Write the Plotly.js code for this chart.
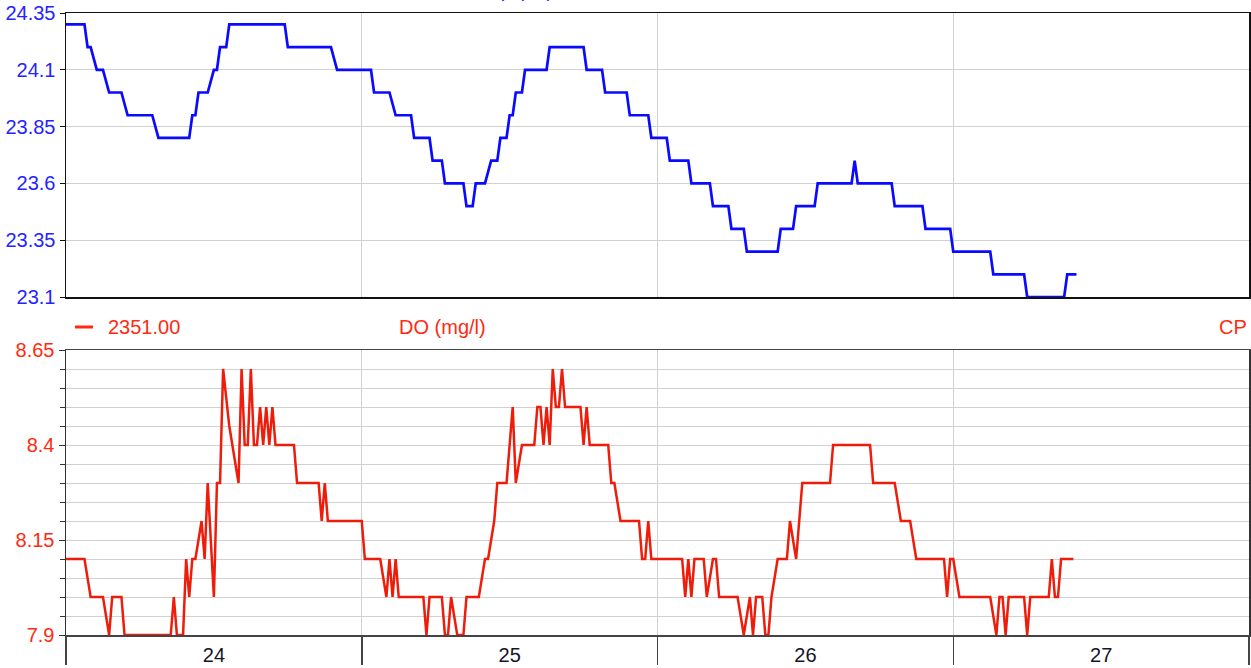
<!DOCTYPE html>
<html>
<head>
<meta charset="utf-8">
<script src="https://cdn.plot.ly/plotly-3.0.1.min.js"></script>
<style>
  html, body { margin: 0; padding: 0; background: #ffffff; }
  #chart { width: 1251px; height: 668px; }
</style>
</head>
<body>
<div id="chart"></div>
<script>
// ---- Data (hours since 24th 00:00, 15-min samples; flat runs given by their ends) ----
const tempHours = [0, 1.5, 1.75, 2.0, 2.5, 3.0, 3.5, 4.5, 5.0, 7.0, 7.5, 10.0, 10.25, 10.5, 10.75, 11.5,
  12.0, 12.25, 12.5, 13.0, 13.25, 17.75, 18.0, 21.5, 22.0, 24.75, 25.0, 26.25, 26.75, 28.0, 28.25, 29.5,
  29.75, 30.5, 30.75, 32.25, 32.5, 33.0, 33.25, 34.0, 34.5, 35.0, 35.25, 35.75, 36.0, 36.25, 36.5, 37.0,
  37.25, 39.0, 39.25, 42.0, 42.25, 43.5, 43.75, 45.5, 45.75, 47.25, 47.5, 48.75, 49.0, 50.5, 50.75, 52.25,
  52.5, 53.75, 54.0, 55.0, 55.25, 57.75, 58.0, 59.0, 59.25, 60.75, 61.0, 63.75, 64.0, 64.25, 67.0, 67.25,
  69.5, 69.75, 71.75, 72.0, 75.0, 75.25, 77.75, 78.0, 81.0, 81.25, 82.0];
const tempValues = [24.3, 24.3, 24.2, 24.2, 24.1, 24.1, 24.0, 24.0, 23.9, 23.9, 23.8, 23.8, 23.9, 23.9, 24.0, 24.0,
  24.1, 24.1, 24.2, 24.2, 24.3, 24.3, 24.2, 24.2, 24.1, 24.1, 24.0, 24.0, 23.9, 23.9, 23.8, 23.8,
  23.7, 23.7, 23.6, 23.6, 23.5, 23.5, 23.6, 23.6, 23.7, 23.7, 23.8, 23.8, 23.9, 23.9, 24.0, 24.0,
  24.1, 24.1, 24.2, 24.2, 24.1, 24.1, 24.0, 24.0, 23.9, 23.9, 23.8, 23.8, 23.7, 23.7, 23.6, 23.6,
  23.5, 23.5, 23.4, 23.4, 23.3, 23.3, 23.4, 23.4, 23.5, 23.5, 23.6, 23.6, 23.7, 23.6, 23.6, 23.5,
  23.5, 23.4, 23.4, 23.3, 23.3, 23.2, 23.2, 23.1, 23.1, 23.2, 23.2];

const doHours = [0, 1.5, 2.0, 3.0, 3.5, 3.75, 4.5, 4.75, 8.5, 8.75, 9.0, 9.5, 9.75, 10.0, 10.25, 10.5,
  10.75, 11.0, 11.25, 11.5, 12.0, 12.25, 12.5, 12.75, 13.25, 13.5, 13.75, 14.0, 14.25, 14.5, 14.75, 15.0,
  15.25, 15.5, 15.75, 16.0, 16.25, 16.5, 16.75, 17.0, 18.5, 18.75, 20.5, 20.75, 21.0, 21.25, 24.0, 24.25,
  25.5, 26.0, 26.25, 26.5, 26.75, 27.0, 29.0, 29.25, 29.5, 30.5, 30.75, 31.0, 31.25, 31.75, 32.25, 32.5,
  33.5, 34.0, 34.25, 34.75, 35.0, 35.75, 36.25, 36.5, 37.0, 38.0, 38.25, 38.5, 38.75, 39.0, 39.25, 39.5,
  39.75, 40.0, 40.25, 40.5, 41.75, 42.0, 42.25, 42.5, 44.0, 44.25, 44.5, 45.0, 46.5, 46.75, 47.0, 47.25,
  47.5, 50.0, 50.25, 50.5, 50.75, 51.0, 51.75, 52.0, 52.5, 52.75, 53.0, 54.5, 55.0, 55.5, 55.75, 56.0,
  56.5, 56.75, 57.0, 57.25, 57.75, 58.5, 58.75, 59.25, 59.75, 62.0, 62.25, 65.25, 65.5, 67.25, 67.75, 68.5,
  69.0, 71.25, 71.5, 71.75, 72.0, 72.5, 75.0, 75.5, 75.75, 76.0, 76.25, 76.5, 77.75, 78.0, 78.25, 79.75,
  80.0, 80.25, 80.5, 80.75, 81.75];
const doValues = [8.1, 8.1, 8.0, 8.0, 7.9, 8.0, 8.0, 7.9, 7.9, 8.0, 7.9, 7.9, 8.1, 8.0, 8.1, 8.1,
  8.15, 8.2, 8.1, 8.3, 8.0, 8.3, 8.3, 8.6, 8.45, 8.4, 8.35, 8.3, 8.6, 8.4, 8.4, 8.6,
  8.4, 8.4, 8.5, 8.4, 8.5, 8.4, 8.5, 8.4, 8.4, 8.3, 8.3, 8.2, 8.3, 8.2, 8.2, 8.1,
  8.1, 8.0, 8.1, 8.0, 8.1, 8.0, 8.0, 7.9, 8.0, 8.0, 7.9, 7.9, 8.0, 7.9, 7.9, 8.0,
  8.0, 8.1, 8.1, 8.2, 8.3, 8.3, 8.5, 8.3, 8.4, 8.4, 8.5, 8.5, 8.4, 8.5, 8.4, 8.6,
  8.5, 8.5, 8.6, 8.5, 8.5, 8.4, 8.5, 8.4, 8.4, 8.3, 8.3, 8.2, 8.2, 8.1, 8.1, 8.2,
  8.1, 8.1, 8.0, 8.1, 8.0, 8.1, 8.1, 8.0, 8.1, 8.1, 8.0, 8.0, 7.9, 8.0, 7.9, 8.0,
  8.0, 7.9, 7.9, 8.0, 8.1, 8.1, 8.2, 8.1, 8.3, 8.3, 8.4, 8.4, 8.3, 8.3, 8.2, 8.2,
  8.1, 8.1, 8.0, 8.1, 8.1, 8.0, 8.0, 7.9, 8.0, 8.0, 7.9, 8.0, 8.0, 7.9, 8.0, 8.0,
  8.1, 8.0, 8.0, 8.1, 8.1];

const tempTickVals = [23.1, 23.35, 23.6, 23.85, 24.1, 24.35];
const doTickVals = [7.9, 8.15, 8.4, 8.65];
const headerLegend = '2351.00';
const headerTitleBottom = 'DO (mg/l)';
const headerTitleTop = 'Temp (°C)';
const headerRight = 'CP';

// ---- helpers ----
function pad(n) { return (n < 10 ? '0' : '') + n; }
function toDate(h) {
  const totalMin = Math.round(h * 60);
  const day = 24 + Math.floor(totalMin / 1440);
  const m = totalMin % 1440;
  return '2024-01-' + pad(day) + ' ' + pad(Math.floor(m / 60)) + ':' + pad(m % 60);
}

const BLUE = '#0a0aff';
const RED = '#ee1c0a';
const RED_TXT = '#ff2a10';
const GRID = '#d0d0d0';
const FONT = 'Liberation Sans, Arial, sans-serif';

const traces = [
  { x: tempHours.map(toDate), y: tempValues, xaxis: 'x', yaxis: 'y', type: 'scatter', mode: 'lines',
    line: { color: BLUE, width: 2.7 }, hoverinfo: 'x+y', showlegend: false },
  { x: doHours.map(toDate), y: doValues, xaxis: 'x2', yaxis: 'y2', type: 'scatter', mode: 'lines',
    line: { color: RED, width: 2.5 }, hoverinfo: 'x+y', showlegend: false }
];

// plot area: x 66..1249, y 13..635
const H = 622;
const yPaper = (py) => (635 - py) / H;
const xPaper = (px) => (px - 66) / 1183;

const xRange = ['2024-01-24 00:00', '2024-01-28 00:00'];

const layout = {
  width: 1251, height: 668,
  margin: { l: 66, r: 2, t: 13, b: 33 },
  paper_bgcolor: '#ffffff', plot_bgcolor: '#ffffff',
  font: { family: FONT, size: 20, color: '#222' },
  showlegend: false,
  xaxis: {
    type: 'date', range: xRange, domain: [0, 1], anchor: 'y',
    tickmode: 'linear', tick0: '2024-01-24', dtick: 86400000,
    showticklabels: false, ticks: '',
    showgrid: true, gridcolor: GRID, gridwidth: 1,
    showline: true, linecolor: '#111', linewidth: 1.5, mirror: true, zeroline: false
  },
  yaxis: {
    range: [23.1, 24.35], domain: [yPaper(297), 1], anchor: 'x',
    tickmode: 'array', tickvals: tempTickVals, ticktext: tempTickVals.map(String),
    ticks: 'outside', ticklen: 5, tickcolor: '#111', tickwidth: 1,
    tickfont: { family: FONT, size: 20, color: '#2424ff' },
    showgrid: true, gridcolor: GRID, gridwidth: 1,
    showline: true, linecolor: '#111', linewidth: 1.5, mirror: true, zeroline: false
  },
  xaxis2: {
    type: 'date', range: xRange, domain: [0, 1], anchor: 'y2',
    tickmode: 'linear', tick0: '2024-01-24', dtick: 86400000,
    ticklabelmode: 'period', tickformat: '%d',
    ticks: 'outside', ticklen: 28, tickcolor: '#444', tickwidth: 1.5,
    ticklabelstandoff: -27,
    tickfont: { family: FONT, size: 20, color: '#15152a' },
    showgrid: true, gridcolor: GRID, gridwidth: 1,
    showline: true, linecolor: '#444', linewidth: 1.5, mirror: true, zeroline: false
  },
  yaxis2: {
    range: [7.9, 8.65], domain: [0, yPaper(350)], anchor: 'x2',
    tickmode: 'array', tickvals: doTickVals, ticktext: doTickVals.map(String),
    ticks: 'outside', ticklen: 6, tickcolor: '#333', tickwidth: 1,
    tickfont: { family: FONT, size: 20, color: RED_TXT },
    showgrid: true, gridcolor: GRID, gridwidth: 1,
    minor: { tickmode: 'linear', tick0: 7.9, dtick: 0.05, ticks: 'outside', ticklen: 5,
             tickcolor: '#333', showgrid: true, gridcolor: GRID, gridwidth: 1 },
    showline: true, linecolor: '#333', linewidth: 1.5, mirror: true, zeroline: false
  },
  shapes: [
    { type: 'line', xref: 'paper', yref: 'paper', x0: xPaper(75), x1: xPaper(93),
      y0: yPaper(327), y1: yPaper(327), line: { color: RED_TXT, width: 3 } }
  ],
  annotations: [
    { text: headerLegend, xref: 'paper', yref: 'paper', x: xPaper(106), y: yPaper(327),
      xanchor: 'left', yanchor: 'middle', showarrow: false, font: { family: FONT, size: 20, color: RED_TXT } },
    { text: headerTitleBottom, xref: 'paper', yref: 'paper', x: xPaper(442), y: yPaper(327),
      xanchor: 'center', yanchor: 'middle', showarrow: false, font: { family: FONT, size: 20, color: RED_TXT } },
    { text: headerRight, xref: 'paper', yref: 'paper', x: xPaper(1249), y: yPaper(327),
      xanchor: 'right', yanchor: 'middle', showarrow: false, font: { family: FONT, size: 20, color: RED_TXT } },
    { text: headerTitleTop, xref: 'paper', yref: 'paper', x: xPaper(508), y: yPaper(-10),
      xanchor: 'center', yanchor: 'middle', showarrow: false, font: { family: FONT, size: 20, color: '#2424ff' } }
  ]
};

Plotly.newPlot('chart', traces, layout, { displayModeBar: false, staticPlot: true });
</script>
</body>
</html>
